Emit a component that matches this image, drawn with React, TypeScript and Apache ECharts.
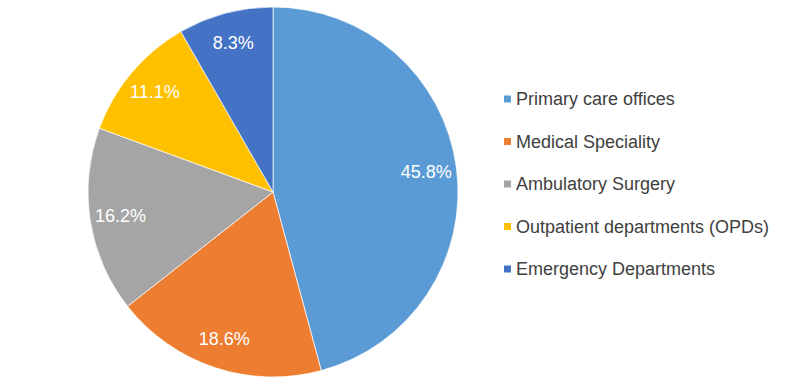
import React, { useEffect, useRef } from "react";
import * as echarts from "echarts";

const categories = [
  "Primary care offices",
  "Medical Speciality",
  "Ambulatory Surgery",
  "Outpatient departments (OPDs)",
  "Emergency Departments",
];
const values = [45.8, 18.6, 16.2, 11.1, 8.3];
const colors = ["#5B9BD5", "#ED7D31", "#A5A5A5", "#FFC000", "#4472C4"];

export default function App() {
  const ref = useRef<HTMLDivElement>(null);
  useEffect(() => {
    if (!ref.current) return;
    const chart = echarts.init(ref.current, undefined, { renderer: "svg" });
    const data = categories.map((name, i) => ({
      name,
      value: values[i],
      itemStyle: { color: colors[i] },
    }));
    chart.setOption({
      animation: false,
      backgroundColor: "#ffffff",
      legend: {
        orient: "vertical",
        left: 502,
        top: 89,
        padding: 0,
        icon: "rect",
        itemWidth: 9,
        itemHeight: 9,
        itemGap: 22.5,
        data: categories,
        textStyle: {
          fontFamily: "Liberation Sans, Arial, sans-serif",
          fontSize: 18,
          lineHeight: 20,
          padding: [0, 0, 0, -1],
          color: "#404040",
        },
      },
      series: [
        {
          type: "pie",
          center: [273, 192],
          radius: 185,
          startAngle: 90,
          clockwise: true,
          label: { show: false },
          labelLine: { show: false },
          itemStyle: { borderColor: "#ffffff", borderWidth: 0.7 },
          emphasis: { disabled: true },
          data,
        },
        {
          type: "pie",
          center: [273, 192],
          radius: [118, 185],
          startAngle: 90,
          clockwise: true,
          silent: true,
          legendHoverLink: false,
          itemStyle: { color: "rgba(0,0,0,0)" },
          emphasis: { disabled: true },
          labelLine: { show: false },
          label: {
            show: true,
            position: "inside",
            formatter: (p: any) => p.value.toFixed(1) + "%",
            color: "#ffffff",
            fontFamily: "Liberation Sans, Arial, sans-serif",
            fontSize: 18,
          },
          data: categories.map((name, i) => ({ name, value: values[i] })),
        },
      ],
    });
    return () => chart.dispose();
  }, []);
  return (
    <div
      ref={ref}
      style={{ position: "fixed", left: 0, top: 0, width: 800, height: 383 }}
    />
  );
}
